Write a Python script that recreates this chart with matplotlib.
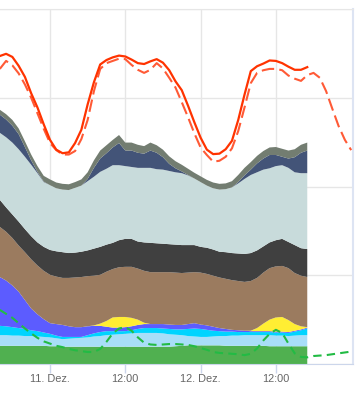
import numpy as np
import matplotlib.pyplot as plt

plt.rcParams['font.family'] = ['Liberation Sans', 'DejaVu Sans']

# Stunden relativ zu 11. Dez. 00:00
hours = np.arange(-8, 42)
hours_fc = np.arange(-8, 49)

# Erzeugung (GW), gestapelt von unten nach oben
biomasse = [4.1, 4.1, 4.1, 4.1, 4.1, 4.1, 4.1, 4.1,
            4.0, 4.0, 3.9, 3.9, 3.9, 3.9, 3.9, 3.9, 3.9, 3.9,
            3.9, 3.9, 3.9, 3.9, 3.9, 3.9, 3.9, 3.9, 3.9, 3.9,
            4.0, 4.1, 4.2, 4.2, 4.2, 4.2, 4.2, 4.2, 4.1, 4.1,
            4.1, 4.1, 4.1, 4.1, 4.1, 4.0, 4.0, 4.0, 4.0, 4.0, 4.0, 4.0]
wasser = [2.4, 2.4, 2.3, 2.3, 2.2, 2.2, 2.1, 2.0,
          2.0, 1.8, 1.7, 1.8, 1.9, 2.0, 2.1, 2.3, 2.4, 2.6,
          2.7, 2.8, 2.9, 3.0, 3.1, 3.1, 3.1, 3.1, 3.0, 2.8,
          2.6, 2.4, 2.1, 2.0, 1.9, 1.9, 2.0, 2.1, 2.2, 2.3,
          2.3, 2.4, 2.4, 2.4, 2.4, 2.5, 2.4, 2.4, 2.3, 2.4, 2.5, 2.5]
wind_offshore = [2.1, 2.0, 1.9, 1.7, 1.6, 1.3, 1.2, 1.0,
                 0.8, 0.6, 0.5, 0.4, 0.3, 0.2, 0.5, 0.7, 0.9, 0.9,
                 0.8, 0.7, 0.6, 0.7, 0.9, 1.1, 1.1, 1.1, 1.1, 1.2,
                 1.2, 1.3, 1.6, 1.8, 1.8, 1.6, 1.3, 1.1, 1.0, 0.9,
                 0.8, 0.7, 0.7, 0.7, 0.7, 0.7, 0.7, 0.7, 0.7, 0.9, 1.1, 1.5]
wind_onshore = [11.0, 10.3, 9.4, 8.2, 6.5, 4.9, 3.8, 3.0,
                2.4, 2.6, 2.7, 2.4, 2.2, 2.2, 2.0, 1.7, 1.4, 1.0,
                0.8, 0.8, 0.9, 0.9, 0.9, 0.9, 0.9, 0.9, 1.0, 1.0,
                1.0, 1.0, 1.1, 1.2, 1.0, 1.0, 0.9, 0.7, 0.6, 0.4,
                0.4, 0.3, 0.2, 0.2, 0.2, 0.2, 0.2, 0.2, 0.2, 0.2, 0.2, 0.2]
solar = [0, 0, 0, 0, 0, 0, 0, 0,
         0, 0, 0, 0, 0, 0, 0, 0.1, 0.5, 1.3,
         2.3, 2.4, 2.3, 1.9, 1.2, 0.3, 0, 0, 0, 0,
         0, 0, 0, 0, 0, 0, 0, 0, 0, 0,
         0, 0, 0.1, 0.7, 1.7, 2.6, 3.2, 3.3, 2.7, 1.5, 0.7, 0.1]
braunkohle = [11.3, 11.0, 10.7, 10.4, 10.8, 11.1, 11.0, 10.9,
              10.9, 10.7, 10.6, 10.9, 11.2, 11.3, 11.3, 11.2, 11.0, 11.1,
              10.9, 11.2, 11.3, 11.5, 11.5, 11.7, 11.7, 11.7, 11.7, 11.8,
              11.8, 11.7, 11.6, 11.5, 11.7, 11.6, 11.5, 11.4, 11.3, 11.2,
              11.1, 11.0, 11.2, 11.3, 11.5, 11.6, 11.5, 11.5, 11.7, 11.5, 11.4, 11.3]
steinkohle = [6.1, 5.5, 5.3, 5.4, 5.2, 5.2, 5.2, 5.4,
              5.6, 5.7, 5.8, 5.6, 5.6, 5.7, 5.8, 6.1, 6.3, 6.1,
              5.9, 6.1, 6.3, 6.3, 6.1, 6.4, 6.6, 6.5, 6.4, 6.3,
              6.3, 6.3, 6.2, 6.1, 5.8, 5.9, 5.9, 5.8, 6.0, 6.1,
              6.2, 6.3, 6.3, 6.2, 5.9, 5.8, 5.9, 6.1, 5.9, 6.3, 6.2, 6.3]
erdgas = [15.1, 15.8, 16.2, 16.3, 16.3, 16.1, 15.6, 14.6,
          14.6, 14.2, 14.1, 14.2, 14.6, 14.9, 15.6, 16.2, 16.9, 17.1,
          17.5, 16.9, 16.4, 16.2, 16.6, 16.8, 16.9, 16.7, 16.7, 16.5,
          16.3, 16.2, 15.7, 15.0, 14.6, 14.0, 13.8, 14.0, 14.2, 14.8,
          15.8, 16.9, 17.6, 17.6, 17.3, 16.7, 16.7, 16.6, 16.7, 16.4, 16.9, 17.1]
pumpspeicher = [4.1, 4.0, 3.8, 3.4, 2.2, 1.0, 0.3, 0.1,
                0, 0, 0, 0, 0, 0, 0.5, 2.0, 3.0, 3.5,
                4.0, 5.0, 3.5, 3.7, 3.4, 3.2, 3.9, 3.7, 2.8, 1.6,
                0.9, 0.4, 0.1, 0, 0, 0, 0, 0, 0, 0,
                0.3, 0.8, 1.2, 2.0, 2.5, 3.0, 2.5, 1.9, 2.1, 3.4, 4.6, 5.1]
sonstige = [1.1, 1.2, 1.3, 1.3, 1.3, 1.3, 1.3, 1.3,
            1.3, 1.3, 1.3, 1.3, 1.3, 1.4, 1.5, 1.7, 1.8, 1.8,
            1.7, 1.8, 1.8, 1.8, 1.8, 1.7, 1.8, 1.7, 1.7, 1.7,
            1.6, 1.5, 1.4, 1.3, 1.3, 1.3, 1.3, 1.3, 1.3, 1.4,
            1.6, 1.7, 1.7, 1.7, 1.7, 1.7, 1.8, 1.8, 1.8, 1.8, 1.8, 1.8]

# Verbrauch und Prognosen (GW)
verbrauch = [69.4, 69.9, 69.2, 67.2, 64.7, 61.0, 57.8, 54.0,
             50.5, 48.3, 47.5, 47.7, 49.8, 52.8, 58.5, 63.5, 67.5, 68.5,
             69.1, 69.5, 69.3, 68.6, 67.8, 67.6, 68.2, 68.7, 67.9, 66.2,
             63.7, 61.7, 58.2, 54.5, 51.0, 48.3, 47.3, 47.4, 48.4, 50.3,
             55.0, 60.7, 66.0, 67.1, 67.7, 68.4, 68.3, 67.8, 67.0, 66.3, 66.3, 66.9]
verbrauch_prognose = [66.5, 68.3, 67.3, 65.5, 63.0, 60.0, 56.5, 53.0,
                      49.8, 48.2, 47.2, 47.2, 48.0, 50.7, 55.0, 61.5, 66.5, 67.8,
                      68.3, 68.8, 68.7, 67.4, 66.3, 65.6, 66.3, 67.8, 66.6, 64.5,
                      62.3, 59.0, 55.6, 52.0, 48.8, 47.1, 45.6, 45.8, 46.7, 48.6,
                      52.5, 57.8, 63.3, 65.6, 66.2, 66.5, 66.5, 66.2, 65.0, 64.3,
                      63.8, 65.1, 65.6, 64.5, 61.5, 57.5, 53.6, 50.5, 48.2]
ee_prognose = [12.2, 11.3, 10.4, 9.2, 8.0, 6.9, 5.9, 5.1,
               4.6, 4.1, 3.8, 3.4, 3.1, 2.9, 2.7, 2.7, 3.4, 5.0,
               6.9, 8.0, 8.3, 7.5, 6.0, 4.8, 4.4, 4.3, 4.4, 4.5,
               4.5, 4.4, 4.3, 4.0, 3.6, 3.2, 2.7, 2.5, 2.4, 2.3,
               2.2, 2.0, 2.3, 3.5, 5.3, 6.8, 7.7, 7.0, 4.6, 2.4,
               1.6, 1.5, 1.8, 1.9, 2.0, 2.2, 2.4, 2.6, 2.8]

tick_pos = [0, 12, 24, 36]
tick_labels = ['11. Dez.', '12:00', '12. Dez.', '12:00']

layers = [biomasse, wasser, wind_offshore, wind_onshore, solar,
          braunkohle, steinkohle, erdgas, pumpspeicher, sonstige]
colors = ['#50b050', '#a8def8', '#00d4ff', '#5c5cff', '#ffee33',
          '#9b7b5f', '#404040', '#c8dbdb', '#435478', '#737d71']

fig = plt.figure(figsize=(3.58, 4.09), dpi=100)
ax = fig.add_axes([0, 45 / 409, 353 / 358, 355 / 409])

ax.stackplot(hours, layers, colors=colors, linewidth=0, zorder=2)
ax.plot(hours_fc, verbrauch_prognose, color='#ff5a36', lw=1.5, dashes=(6, 2.5), zorder=3)
ax.plot(hours, verbrauch, color='#ff3300', lw=1.6, zorder=4)
ax.plot(hours_fc, ee_prognose, color='#22bb44', lw=1.5, dashes=(4, 2.5), zorder=3)

ax.set_xlim(-7.97, 48.29)
ax.set_ylim(0, 80)
ax.set_yticks([0, 20, 40, 60, 80])
ax.set_xticks(tick_pos)
ax.set_xticklabels(tick_labels)
ax.grid(color='#e6e6e6', lw=1, zorder=0)
ax.set_axisbelow(True)
ax.tick_params(axis='y', left=False, labelleft=False)
ax.tick_params(axis='x', length=6.5, width=1, color='#ccd6eb',
               labelcolor='#666666', labelsize=7.9, pad=1)
ax.spines['left'].set_visible(False)
ax.spines['top'].set_color('#e6e6e6')
ax.spines['bottom'].set_color('#ccd6eb')
ax.spines['right'].set_color('#dde4f3')
ax.spines['right'].set_linewidth(1.5)

fig.savefig('out.png', dpi=100)
